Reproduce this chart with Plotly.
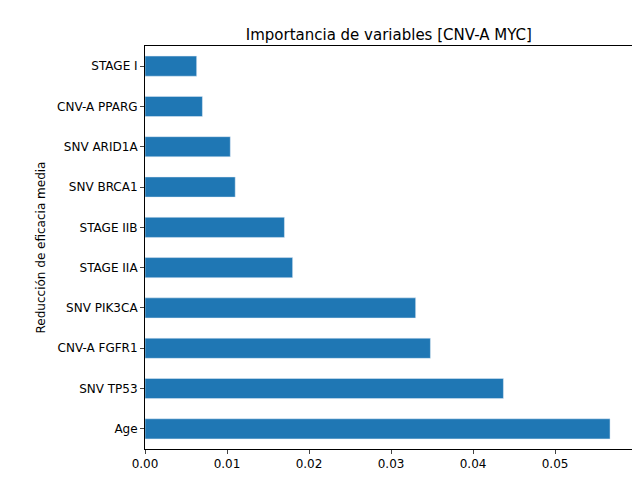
import plotly.graph_objects as go

variables = ["Age", "SNV TP53", "CNV-A FGFR1", "SNV PIK3CA", "STAGE IIA",
             "STAGE IIB", "SNV BRCA1", "SNV ARID1A", "CNV-A PPARG", "STAGE I"]
importancia = [0.0567, 0.0437, 0.0348, 0.0330, 0.0180,
               0.0170, 0.0110, 0.0104, 0.0070, 0.0063]

fig = go.Figure()
fig.add_trace(go.Bar(x=importancia, y=variables, orientation="h",
                     marker_color="#1f77b4", width=0.5))

fig.update_layout(
    width=640, height=480,
    paper_bgcolor="white", plot_bgcolor="white",
    font=dict(family="DejaVu Sans", size=12, color="black"),
    title=dict(text="Importancia de variables [CNV-A MYC]", x=0.595, y=0.955,
               xanchor="center", font=dict(size=15)),
    margin=dict(l=137, r=15, t=38, b=39),
    showlegend=False,
)
fig.update_xaxes(range=[0, 0.0595], tickvals=[0, 0.01, 0.02, 0.03, 0.04, 0.05],
                 tickformat=".2f", showgrid=False, showline=True, linecolor="black",
                 mirror=True, ticks="outside", ticklen=4, zeroline=False,
                 automargin=False)
fig.update_yaxes(range=[-0.5, 9.5], showgrid=False, showline=True, linecolor="black",
                 mirror=True, ticks="outside", ticklen=4, automargin=False,
                 title=dict(text="Reducción de eficacia media", standoff=8,
                            font=dict(size=12)))

fig.write_html("out.html")
